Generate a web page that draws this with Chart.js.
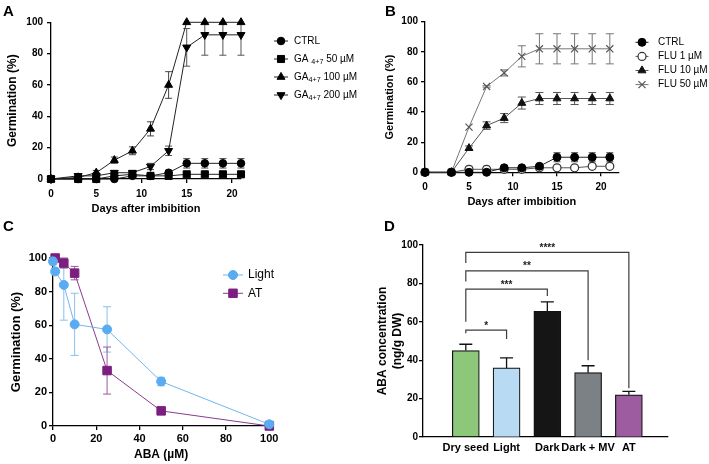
<!DOCTYPE html>
<html>
<head>
<meta charset="utf-8">
<script src="https://cdn.jsdelivr.net/npm/chart.js@4.4.0/dist/chart.umd.min.js"></script>
<style>
  body { margin: 0; background: #fff; }
  #fig { position: relative; width: 709px; height: 464px; font-family: 'Liberation Sans', Arial, sans-serif; }
  #fig canvas { position: absolute; }
  .tag { position: absolute; font-weight: bold; font-size: 15px; line-height: 15px; color: #000; }
</style>
</head>
<body>
<div id="fig">
  <canvas id="chartB" width="354" height="225" style="left:355px;top:0"></canvas>
  <canvas id="chartA" width="372" height="225" style="left:0;top:0"></canvas>
  <canvas id="chartC" width="355" height="239" style="left:0;top:225px"></canvas>
  <canvas id="chartD" width="354" height="239" style="left:355px;top:225px"></canvas>
  <div class="tag" style="left:3px;top:3px">A</div>
  <div class="tag" style="left:385px;top:3px">B</div>
  <div class="tag" style="left:3px;top:218px">C</div>
  <div class="tag" style="left:384px;top:218px">D</div>
</div>
<script>
// ---- Panel A: GA4+7 time course ----
const daysA = [0, 3, 5, 7, 9, 11, 13, 15, 17, 19, 21];
const ctrlA = [0, 0, 0, 0, 2, 2, 4, 10, 10, 10, 10];
const ctrlAErr = [0, 0, 0, 0, 1, 1, 1.5, 3, 3, 3, 3];
const ga50A = [0, 0, 0, 2, 3, 2, 2, 3, 3, 3, 3];
const ga50AErr = [0, 0, 0, 1.5, 1.5, 1, 1, 1, 1, 1, 1];
const ga100A = [0, 1, 4, 12, 18, 32, 60, 100, 100, 100, 100];
const ga100AErr = [0, 2, 1.5, 2, 2.5, 4.5, 8.5, 0, 0, 0, 0];
const ga200A = [0, 2, 2, 4, 4, 8, 18, 84, 92, 92, 92];
const ga200AErr = [0, 1.5, 2, 1.5, 1.5, 2, 3, 12, 13, 13, 13];

// ---- Panel B: fluridone time course ----
const daysB = [0, 3, 5, 7, 9, 11, 13, 15, 17, 19, 21];
const ctrlB = [0, 0, 0, 0, 3, 3, 4, 10, 10, 10, 10];
const ctrlBErr = [0, 0, 0, 0, 1, 1, 1, 3, 3, 3, 3];
const flu1B = [0, 0, 2, 2, 2, 2, 3, 3, 3, 4, 4];
const flu1BErr = [0, 0, 2, 2, 1, 1, 1, 1, 1, 1, 1];
const flu10B = [0, 0, 16, 31, 36, 46, 49, 49, 49, 49, 49];
const flu10BErr = [0, 0, 1.5, 2.5, 3, 4, 4, 4, 4, 4, 4];
const flu50B = [0, 0, 30, 57, 66, 77, 82, 82, 82, 82, 82];
const flu50BErr = [0, 0, 0, 0.5, 2, 7, 10, 10, 10, 10, 10];

// ---- Panel C: ABA dose response ----
const abaLightDose = [0, 1, 5, 10, 25, 50, 100];
const lightC = [98, 92, 84, 60.5, 57.5, 26.5, 1];
const lightCErr = [2, 2, 21, 18.5, 13.5, 2.5, 2];
const abaATDose = [1, 5, 10, 25, 50, 100];
const atC = [100, 97, 91, 33, 9, 0];
const atCErr = [0, 3, 4, 14, 1, 0];

// ---- Panel D: ABA content ----
const tissues = ['Dry seed', 'Light', 'Dark', 'Dark + MV', 'AT'];
const abaConc = [45, 36, 65.5, 33.5, 22];
const abaConcErr = [3.3, 5.2, 4.9, 3.6, 1.8];
const tissueColors = ['#8dc77a', '#b8dbf3', '#151515', '#7c8185', '#9c5c9f'];
// bracket: from/to bar index, top value, leg end values, stars
const sigBrackets = [
    { from: 0, to: 1, top: 55.7, leftEnd: 54, rightEnd: 51, stars: '*' },
    { from: 0, to: 2, top: 77, leftEnd: 60, rightEnd: 73.4, stars: '***' },
    { from: 0, to: 3, top: 86.5, leftEnd: 81, rightEnd: 40, stars: '**' },
    { from: 0, to: 4, top: 96.2, leftEnd: 90.6, rightEnd: 25.4, stars: '****' }
];

const FONT = "'Liberation Sans', Arial, sans-serif";
Chart.defaults.font.family = FONT;
Chart.defaults.color = '#000';
Chart.defaults.animation = false;

function toPoints(xs, ys) {
    return xs.map((x, i) => ({ x: x, y: ys[i] }));
}

// Error bars drawn under the markers
const errorBarPlugin = {
    id: 'errorBars',
    beforeDatasetsDraw(chart) {
        const ctx = chart.ctx;
        const yScale = chart.scales.y;
        chart.data.datasets.forEach((ds, di) => {
            if (!ds.err) return;
            const meta = chart.getDatasetMeta(di);
            ctx.save();
            ctx.strokeStyle = ds.errColor || ds.borderColor;
            ctx.lineWidth = ds.errWidth || 1;
            meta.data.forEach((el, i) => {
                const e = ds.err[i];
                if (!e) return;
                const v = ds.data[i].y;
                const hi = Math.min(v + e, yScale.max);
                const lo = ds.errUpOnly ? v : Math.max(v - e, yScale.min);
                const x = el.x;
                const w = ds.errCap || 3.5;
                const yHi = yScale.getPixelForValue(hi);
                const yLo = yScale.getPixelForValue(lo);
                ctx.beginPath();
                ctx.moveTo(x, yHi);
                ctx.lineTo(x, yLo);
                if (v + e <= yScale.max) {
                    ctx.moveTo(x - w, yHi);
                    ctx.lineTo(x + w, yHi);
                }
                if (!ds.errUpOnly && v - e >= yScale.min) {
                    ctx.moveTo(x - w, yLo);
                    ctx.lineTo(x + w, yLo);
                }
                ctx.stroke();
            });
            ctx.restore();
        });
    }
};

// Draw text with _{...} parts as subscripts
function drawRichLabel(ctx, text, x, y, size) {
    const parts = text.split(/_\{([^}]*)\}/);
    parts.forEach((p, k) => {
        const sub = k % 2 === 1;
        ctx.font = (sub ? size * 0.72 : size) + 'px ' + FONT;
        ctx.fillText(p, x, sub ? y + size * 0.32 : y);
        x += ctx.measureText(p).width;
    });
}

// Legend at the side: short line + marker + label
const sideLegendPlugin = {
    id: 'sideLegend',
    afterDraw(chart, args, opts) {
        if (!opts || opts.x === undefined) return;
        const ctx = chart.ctx;
        ctx.save();
        ctx.textBaseline = 'middle';
        chart.data.datasets.forEach((ds, i) => {
            const y = opts.y + i * opts.dy;
            ctx.strokeStyle = ds.borderColor;
            ctx.lineWidth = ds.borderWidth || 1;
            ctx.beginPath();
            ctx.moveTo(opts.x - opts.half, y);
            ctx.lineTo(opts.x + opts.half, y);
            ctx.stroke();
            ctx.fillStyle = ds.pointBackgroundColor;
            ctx.strokeStyle = ds.pointBorderColor;
            ctx.lineWidth = ds.pointBorderWidth || 1;
            Chart.helpers.drawPoint(ctx, {
                pointStyle: ds.pointStyle,
                rotation: ds.pointRotation || 0,
                radius: ds.pointRadius,
                borderWidth: ds.pointBorderWidth || 1
            }, opts.x, y);
            ctx.fillStyle = '#000';
            drawRichLabel(ctx, ds.label, opts.textX, y, opts.size);
        });
        ctx.restore();
    }
};

// Significance brackets for panel D
const bracketPlugin = {
    id: 'sigBrackets',
    afterDatasetsDraw(chart, args, opts) {
        if (!opts || !opts.show) return;
        const ctx = chart.ctx;
        const xs = chart.scales.x, ys = chart.scales.y;
        ctx.save();
        ctx.strokeStyle = '#3c3c3c';
        ctx.lineWidth = 1.2;
        ctx.fillStyle = '#222';
        ctx.font = 'bold 10px ' + FONT;
        ctx.textAlign = 'center';
        ctx.textBaseline = 'alphabetic';
        sigBrackets.forEach(b => {
            const x0 = xs.getPixelForValue(b.from);
            const x1 = xs.getPixelForValue(b.to);
            const yt = ys.getPixelForValue(b.top);
            ctx.beginPath();
            ctx.moveTo(x0, ys.getPixelForValue(b.leftEnd));
            ctx.lineTo(x0, yt);
            ctx.lineTo(x1, yt);
            ctx.lineTo(x1, ys.getPixelForValue(b.rightEnd));
            ctx.stroke();
            ctx.fillText(b.stars, (x0 + x1) / 2, yt - 1.5);
        });
        ctx.restore();
    }
};

// Axis options in the GraphPad look: black border, short outside ticks, bold labels
function axis(o) {
    const a = {
        type: 'linear',
        min: o.min,
        max: o.max,
        offset: false,
        afterFit: s => {
            if (o.horizontal) s.height = o.size; else s.width = o.size;
        },
        ticks: {
            padding: o.labelPad,
            color: '#000',
            font: { size: o.tickSize || 10, weight: 'bold' },
            maxRotation: 0,
            autoSkip: false
        },
        grid: {
            display: true,
            offset: false,
            drawOnChartArea: false,
            drawTicks: o.drawTicks !== false,
            tickLength: 4,
            color: '#000',
            lineWidth: 1.3
        },
        border: { display: true, color: '#000', width: 1.3 },
        title: { display: false }
    };
    if (o.step) a.ticks.stepSize = o.step;
    if (o.ticksAt) a.afterBuildTicks = s => { s.ticks = o.ticksAt.map(v => ({ value: v })); };
    if (o.labels) a.ticks.callback = v => o.labels[v];
    if (o.title) {
        a.title = {
            display: true,
            text: o.title,
            color: '#000',
            font: { size: o.titleSize, weight: 'bold' },
            padding: o.horizontal ? { top: 0, bottom: o.titlePad } : { top: o.titlePad, bottom: 0 }
        };
    }
    return a;
}

function series(label, xs, ys, err, st) {
    return {
        label: label,
        data: toPoints(xs, ys),
        err: err,
        showLine: true,
        borderColor: st.line,
        borderWidth: st.lw || 1,
        pointStyle: st.shape,
        pointRotation: st.rot || 0,
        pointRadius: st.r,
        pointBackgroundColor: st.fill,
        pointBorderColor: st.edge,
        pointBorderWidth: st.bw || 1,
        errColor: st.errColor,
        errCap: st.cap,
        clip: false,
        tension: 0
    };
}

const noPlugins = { legend: { display: false }, tooltip: { enabled: false } };

// Panel A
new Chart(document.getElementById('chartA'), {
    type: 'scatter',
    data: {
        datasets: [
            series('CTRL', daysA, ctrlA, ctrlAErr, { shape: 'circle', r: 3.8, fill: '#000', edge: '#000', line: '#222', errColor: '#444', cap: 3.5 }),
            series('GA _{4+7} 50 µM', daysA, ga50A, ga50AErr, { shape: 'rect', r: 5, fill: '#000', edge: '#000', line: '#222', errColor: '#444', cap: 3.5 }),
            series('GA_{4+7} 100 µM', daysA, ga100A, ga100AErr, { shape: 'triangle', r: 4.6, fill: '#000', edge: '#000', line: '#222', errColor: '#444', cap: 3.5 }),
            series('GA_{4+7} 200 µM', daysA, ga200A, ga200AErr, { shape: 'triangle', rot: 180, r: 4.6, fill: '#000', edge: '#000', line: '#222', errColor: '#555', cap: 3.5 })
        ]
    },
    options: {
        responsive: false,
        layout: { padding: { top: 22.3, right: 131, bottom: 0, left: 0 } },
        plugins: Object.assign({}, noPlugins, {
            sideLegend: { x: 281, y: 41, dy: 18, half: 7, textX: 294, size: 10 }
        }),
        scales: {
            x: axis({ horizontal: true, min: 0, max: 21, ticksAt: [0, 5, 10, 15, 20], size: 46, labelPad: 5, title: 'Days after imbibition', titleSize: 11, titlePad: 9.4 }),
            y: axis({ min: 0, max: 100, step: 20, size: 51, labelPad: 4, title: 'Germination (%)', titleSize: 12, titlePad: 5 })
        }
    },
    plugins: [errorBarPlugin, sideLegendPlugin]
});

// Panel B
new Chart(document.getElementById('chartB'), {
    type: 'scatter',
    data: {
        datasets: [
            series('CTRL', daysB, ctrlB, ctrlBErr, { shape: 'circle', r: 4, fill: '#000', edge: '#000', line: '#222', errColor: '#444', cap: 3.5 }),
            series('FLU 1 µM', daysB, flu1B, flu1BErr, { shape: 'circle', r: 4, fill: '#fff', edge: '#333', bw: 1.2, line: '#555', errColor: '#666', cap: 3.5 }),
            series('FLU 10 µM', daysB, flu10B, flu10BErr, { shape: 'triangle', r: 4.6, fill: '#111', edge: '#111', line: '#555', errColor: '#555', cap: 4 }),
            series('FLU 50 µM', daysB, flu50B, flu50BErr, { shape: 'crossRot', r: 5, fill: '#555', edge: '#555', bw: 1.2, line: '#777', errColor: '#777', cap: 4 })
        ]
    },
    options: {
        responsive: false,
        layout: { padding: { top: 21.7, right: 90.4, bottom: 0, left: 0 } },
        plugins: Object.assign({}, noPlugins, {
            sideLegend: { x: 287, y: 42.3, dy: 14.1, half: 6.5, textX: 303, size: 10 }
        }),
        scales: {
            x: axis({ horizontal: true, min: 0, max: 22, ticksAt: [0, 5, 10, 15, 20], size: 52.7, labelPad: 5, title: 'Days after imbibition', titleSize: 11, titlePad: 16.4 }),
            y: axis({ min: 0, max: 100, step: 20, size: 70, labelPad: 3, title: 'Germination (%)', titleSize: 11, titlePad: 28.4 })
        }
    },
    plugins: [errorBarPlugin, sideLegendPlugin]
});

// Panel C
new Chart(document.getElementById('chartC'), {
    type: 'scatter',
    data: {
        datasets: [
            series('Light', abaLightDose, lightC, lightCErr, { shape: 'circle', r: 4.5, fill: '#5aabf0', edge: '#5aabf0', line: '#6fb6f0', errColor: '#86c1f0', cap: 4 }),
            series('AT', abaATDose, atC, atCErr, { shape: 'rect', r: 6, fill: '#7b1e80', edge: '#7b1e80', line: '#8a3a8e', errColor: '#9a5a9c', cap: 4 })
        ]
    },
    options: {
        responsive: false,
        layout: { padding: { top: 33, right: 85.7, bottom: 0, left: 0 } },
        plugins: Object.assign({}, noPlugins, {
            sideLegend: { x: 233, y: 50, dy: 18.3, half: 10, textX: 248, size: 12 }
        }),
        scales: {
            x: axis({ horizontal: true, min: 0, max: 100, step: 20, size: 38, labelPad: 2.5, tickSize: 11, title: 'ABA (µM)', titleSize: 12, titlePad: 1.8 }),
            y: axis({ min: 0, max: 100, step: 20, size: 53, labelPad: 2, tickSize: 11, title: 'Germination (%)', titleSize: 13, titlePad: 9 })
        }
    },
    plugins: [errorBarPlugin, sideLegendPlugin]
});

// Panel D
new Chart(document.getElementById('chartD'), {
    type: 'bar',
    data: {
        datasets: [{
            label: 'ABA',
            data: toPoints(tissues.map((t, i) => i), abaConc),
            err: abaConcErr,
            errUpOnly: true,
            errColor: '#111',
            errWidth: 1.3,
            errCap: 6.5,
            backgroundColor: tissueColors,
            borderColor: '#111',
            borderWidth: 1.2,
            barThickness: 27
        }]
    },
    options: {
        responsive: false,
        layout: { padding: { top: 20, right: 41, bottom: 0, left: 0 } },
        plugins: Object.assign({}, noPlugins, { sigBrackets: { show: true } }),
        scales: {
            x: axis({ horizontal: true, min: -1.05, max: 4.96, ticksAt: [0, 1, 2, 3, 4], labels: tissues, size: 27, labelPad: 4, tickSize: 11, drawTicks: false }),
            y: axis({ min: 0, max: 100, step: 20, size: 68, labelPad: 1, title: ['ABA concentration', '(ng/g DW)'], titleSize: 12, titlePad: 20.8 })
        }
    },
    plugins: [errorBarPlugin, bracketPlugin]
});
</script>
</body>
</html>
